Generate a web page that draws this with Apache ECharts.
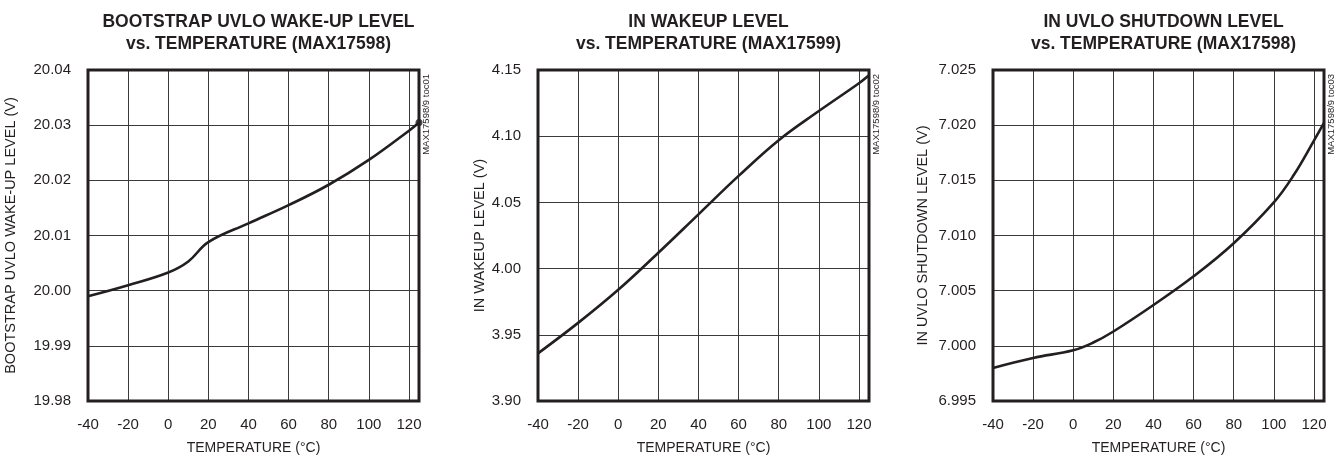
<!DOCTYPE html>
<html><head><meta charset="utf-8">
<script src="https://cdn.jsdelivr.net/npm/echarts@6/dist/echarts.min.js"></script>
<style>html,body{margin:0;padding:0;background:#fff}#c{width:1343px;height:462px}</style>
</head><body><div id="c"></div>
<script>
var temps = [-40, -20, 0, 10, 20, 40, 60, 80, 100, 120, 125];
var bootstrapWake = [19.999, 20.001, 20.0033, 20.0053, 20.0088, 20.0122, 20.0155, 20.0192, 20.0237, 20.0290, 20.0305];
var temps2 = [-40, -20, 0, 20, 40, 60, 80, 100, 120, 125];
var inWake = [3.936, 3.959, 3.984, 4.012, 4.041, 4.070, 4.097, 4.119, 4.140, 4.146];
var temps3 = [-40, -20, 0, 10, 20, 40, 60, 80, 100, 110, 120, 125];
var inUvlo = [6.998, 6.9989, 6.9996, 7.0003, 7.0013, 7.0037, 7.0063, 7.0093, 7.0130, 7.0155, 7.0186, 7.0202];

var titles = ['BOOTSTRAP UVLO WAKE-UP LEVEL\nvs. TEMPERATURE (MAX17598)',
              'IN WAKEUP LEVEL\nvs. TEMPERATURE (MAX17599)',
              'IN UVLO SHUTDOWN LEVEL\nvs. TEMPERATURE (MAX17598)'];
var yNames = ['BOOTSTRAP UVLO WAKE-UP LEVEL (V)', 'IN WAKEUP LEVEL (V)', 'IN UVLO SHUTDOWN LEVEL (V)'];
var xName = 'TEMPERATURE (°C)';
var tocLabels = ['MAX17598/9 toc01', 'MAX17598/9 toc02', 'MAX17598/9 toc03'];
var yRanges = [[19.98, 20.04, 0.01, 2], [3.90, 4.15, 0.05, 2], [6.995, 7.025, 0.005, 3]];

var FONT = '"Liberation Sans", Arial, sans-serif';
var INK = '#231f20';
var lefts = [88, 538, 993];
var W = 331, TOP = 70, H = 331;
var nameGaps = [70, 50, 63];

var chart = echarts.init(document.getElementById('c'));
var grids = [], xAxes = [], yAxes = [], series = [], title = [], graphic = [];
var datasets = [[temps, bootstrapWake], [temps2, inWake], [temps3, inUvlo]];
for (var i = 0; i < 3; i++) {
  grids.push({left: lefts[i], top: TOP, width: W, height: H, show: true, borderColor: INK, borderWidth: 3, backgroundColor: 'transparent', z: 3});
  xAxes.push({type: 'value', gridIndex: i, min: -40, max: 125, interval: 20,
    name: xName, nameLocation: 'middle', nameGap: 40,
    nameTextStyle: {fontFamily: FONT, fontSize: 14, color: INK},
    axisLine: {show: false}, axisTick: {show: false},
    axisLabel: {fontFamily: FONT, fontSize: 15, color: INK, margin: 16, showMaxLabel: false},
    splitLine: {show: true, lineStyle: {color: '#3a3a3a', width: 1}}});
  var r = yRanges[i];
  (function(dec){
  yAxes.push({type: 'value', gridIndex: i, min: r[0], max: r[1], interval: r[2],
    name: yNames[i], nameLocation: 'middle', nameGap: nameGaps[i],
    nameTextStyle: {fontFamily: FONT, fontSize: 14.5, color: INK},
    axisLine: {show: false}, axisTick: {show: false},
    axisLabel: {fontFamily: FONT, fontSize: 15, color: INK, margin: 17, formatter: function(v){return v.toFixed(dec);}},
    splitLine: {show: true, lineStyle: {color: '#3a3a3a', width: 1}}});
  })(r[3]);
  var d = datasets[i];
  var pts = d[0].map(function(t, k){ return [t, d[1][k]]; });
  series.push({type: 'line', xAxisIndex: i, yAxisIndex: i, data: pts, smooth: 0.4,
    showSymbol: false, symbol: 'none', lineStyle: {color: INK, width: 2.6}, z: 5, silent: true});
  title.push({text: titles[i], left: lefts[i] + W / 2, top: 6, textAlign: 'center',
    textStyle: {fontFamily: FONT, fontSize: 17.5, fontWeight: 'bold', color: INK, lineHeight: 22}});
  graphic.push({type: 'text', x: lefts[i] + W + 7, y: 74, rotation: Math.PI / 2,
    style: {text: tocLabels[i], font: '9.5px ' + FONT, fill: INK, textAlign: 'right', textVerticalAlign: 'middle'}});
}
series.push({type: 'scatter', xAxisIndex: 0, yAxisIndex: 0,
  data: [[temps[temps.length-1], bootstrapWake[bootstrapWake.length-1]]],
  symbol: 'circle', symbolSize: 7, itemStyle: {color: INK}, z: 6, silent: true});

chart.setOption({animation: false, title: title, grid: grids, xAxis: xAxes, yAxis: yAxes, series: series, graphic: graphic});
</script></body></html>
